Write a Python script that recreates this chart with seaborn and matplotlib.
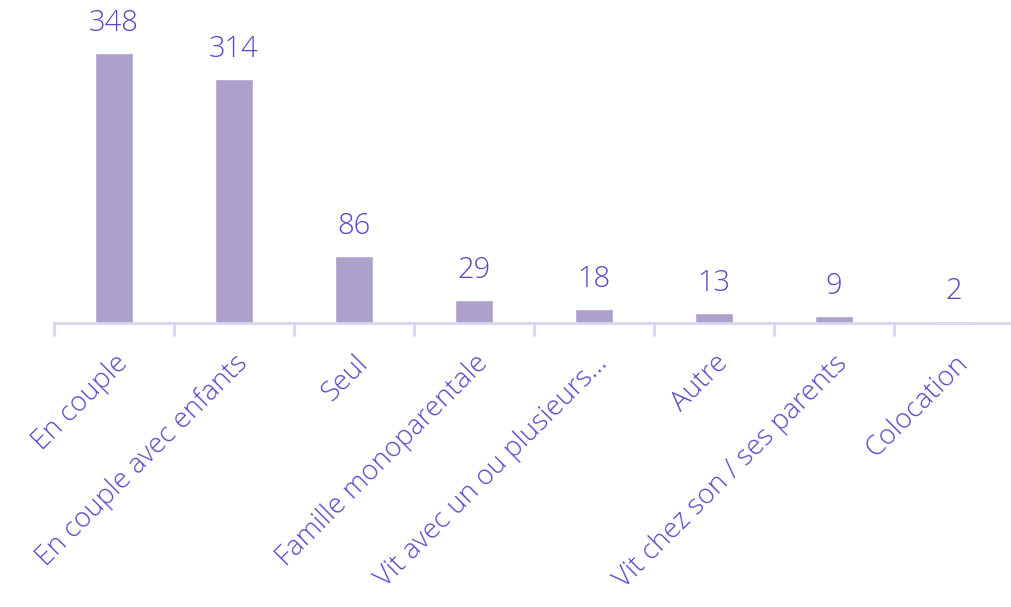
import matplotlib
matplotlib.use("Agg")
import matplotlib.pyplot as plt
import seaborn as sns
import pandas as pd

categories = ["En couple", "En couple avec enfants", "Seul", "Famille monoparentale",
              "Vit avec un ou plusieurs…", "Autre", "Vit chez son / ses parents", "Colocation"]
valeurs = [348, 314, 86, 29, 18, 13, 9, 2]

df = pd.DataFrame({"Situation": categories, "Nombre": valeurs})

sns.set_style("white")
plt.rcParams['font.family'] = ['Open Sans', 'DejaVu Sans']

couleur_barre = "#ada0cb"
couleur_texte = "#5b45c8"
couleur_axe = "#d9d4f0"

fig = plt.figure(figsize=(10.11, 6.07), dpi=100)
ax = fig.add_axes([54 / 1011, 284 / 607, 960 / 1011, 323 / 607])

sns.barplot(data=df, x="Situation", y="Nombre", color=couleur_barre, width=0.31,
            saturation=1, ax=ax)

ax.bar_label(ax.containers[0], labels=[str(v) for v in valeurs], padding=11,
             fontsize=21, color=couleur_texte, fontweight="light")

ax.set_xlim(-0.5, 7.5)
ax.set_ylim(0, 416)
ax.set_xlabel("")
ax.set_ylabel("")
ax.set_yticks([])

for s in ["top", "right", "left"]:
    ax.spines[s].set_visible(False)
ax.spines["bottom"].set_color(couleur_axe)
ax.spines["bottom"].set_linewidth(2)

ax.set_xticks(range(len(categories)))
ax.set_xticklabels(categories, rotation=45, ha="right", rotation_mode="anchor",
                   fontsize=20, color=couleur_texte, fontweight="light")
ax.set_xticks([i - 0.5 for i in range(len(categories) + 1)], minor=True)
ax.tick_params(axis="x", which="major", bottom=True, length=0, pad=19)
ax.tick_params(axis="x", which="minor", bottom=True, length=9, width=2,
               color=couleur_axe, direction="out")

fig.savefig("out.png", dpi=100)
